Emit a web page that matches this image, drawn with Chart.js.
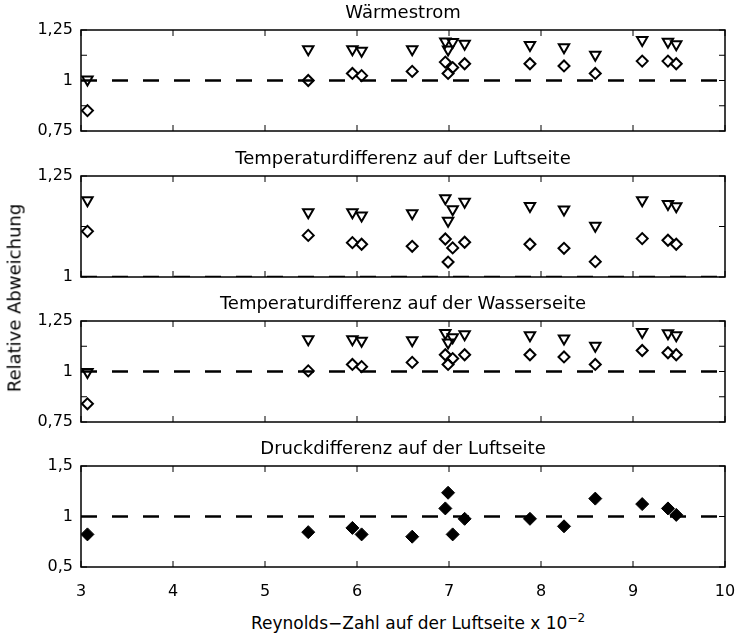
<!DOCTYPE html>
<html>
<head>
<meta charset="utf-8">
<script src="https://cdn.jsdelivr.net/npm/chart.js@4.4.1/dist/chart.umd.min.js"></script>
<style>
  body { margin: 0; background: #fff; }
  #wrap { position: relative; width: 739px; height: 635px; overflow: hidden; font-family: "DejaVu Sans", sans-serif; color: #000; }
  #wrap canvas { position: absolute; left: 0; }
  #ylabel { position: absolute; left: 14px; top: 298px; transform: translate(-50%, -50%) rotate(-90deg); white-space: nowrap; font-size: 18px; }
  #xlabel { position: absolute; left: 418px; top: 622px; transform: translate(-50%, -50%); white-space: nowrap; font-size: 17px; }
  #xlabel sup { font-size: 12px; }
</style>
</head>
<body>
<div id="wrap">
  <canvas id="heat" width="739" height="149" style="top:2px"></canvas>
  <canvas id="air" width="739" height="149" style="top:148px"></canvas>
  <canvas id="water" width="739" height="149" style="top:293px"></canvas>
  <canvas id="pressure" width="739" height="166" style="top:438px"></canvas>
  <div id="ylabel">Relative Abweichung</div>
  <div id="xlabel">Reynolds&minus;Zahl auf der Luftseite x 10<sup>&minus;2</sup></div>
</div>
<script>
// Reynolds number (x 10^-2) of each measurement, shared by all panels
const reynolds = [3.07, 5.47, 5.95, 6.05, 6.60, 6.96, 6.99, 7.04, 7.17, 7.88, 8.25, 8.59, 9.10, 9.38, 9.47];

// Wärmestrom
const heatTri = [1.005, 1.155, 1.155, 1.147, 1.155, 1.193, 1.154, 1.19, 1.182, 1.176, 1.165, 1.128, 1.20, 1.192, 1.18];
const heatDia = [0.851, 1.0, 1.035, 1.024, 1.045, 1.091, 1.035, 1.064, 1.083, 1.083, 1.072, 1.035, 1.096, 1.096, 1.083];

// Temperaturdifferenz auf der Luftseite
const airTri = [1.19, 1.16, 1.16, 1.152, 1.158, 1.195, 1.139, 1.168, 1.186, 1.176, 1.167, 1.127, 1.19, 1.181, 1.175];
const airDia = [1.113, 1.103, 1.085, 1.081, 1.076, 1.094, 1.037, 1.072, 1.086, 1.081, 1.071, 1.038, 1.095, 1.091, 1.081];

// Temperaturdifferenz auf der Wasserseite
const waterTri = [0.997, 1.16, 1.16, 1.152, 1.155, 1.19, 1.144, 1.17, 1.184, 1.18, 1.163, 1.128, 1.196, 1.189, 1.18];
const waterDia = [0.84, 1.003, 1.035, 1.024, 1.045, 1.083, 1.035, 1.064, 1.083, 1.083, 1.072, 1.035, 1.104, 1.093, 1.083];

// Druckdifferenz auf der Luftseite
const pressureDia = [0.823, 0.845, 0.887, 0.823, 0.80, 1.08, 1.235, 0.823, 0.977, 0.977, 0.903, 1.177, 1.123, 1.08, 1.016];

// axis ticks
const xTicks = [3, 4, 5, 6, 7, 8, 9, 10];
const xTickLabels = ['3', '4', '5', '6', '7', '8', '9', '10'];
const quarterTicks = [0.75, 0.875, 1, 1.125, 1.25];
const quarterLabels = ['0,75', '', '1', '', '1,25'];
const airTicks = [1, 1.125, 1.25];
const airLabels = ['1', '', '1,25'];
const pressureTicks = [0.5, 1, 1.5];
const pressureLabels = ['0,5', '1', '1,5'];

const FONT = '"DejaVu Sans", sans-serif';
const TICK_LEN = 6;

// box around the axes with inward tick marks on all four sides
function framePlugin(yTicks) {
  return {
    id: 'frame',
    afterDatasetsDraw(chart) {
      const { ctx, chartArea: a, scales: { x, y } } = chart;
      ctx.save();
      ctx.strokeStyle = '#000';
      ctx.lineWidth = 1;
      ctx.beginPath();
      xTicks.forEach(v => {
        const px = x.getPixelForValue(v);
        ctx.moveTo(px, a.bottom); ctx.lineTo(px, a.bottom - TICK_LEN);
        ctx.moveTo(px, a.top); ctx.lineTo(px, a.top + TICK_LEN);
      });
      yTicks.forEach(v => {
        const py = y.getPixelForValue(v);
        ctx.moveTo(a.left, py); ctx.lineTo(a.left + TICK_LEN, py);
        ctx.moveTo(a.right, py); ctx.lineTo(a.right - TICK_LEN, py);
      });
      ctx.stroke();
      ctx.lineWidth = 1.5;
      ctx.strokeRect(a.left, a.top, a.right - a.left, a.bottom - a.top);
      ctx.restore();
    }
  };
}

function points(values) {
  return values.map((v, i) => ({ x: reynolds[i], y: v }));
}

function openTriangles(values) {
  return {
    data: points(values), pointStyle: 'triangle', rotation: 180, pointRadius: 6,
    borderColor: '#000', backgroundColor: 'rgba(0,0,0,0)', pointBorderWidth: 2, order: 0
  };
}

function openDiamonds(values) {
  return {
    data: points(values), pointStyle: 'rectRot', pointRadius: 5.5,
    borderColor: '#000', backgroundColor: 'rgba(0,0,0,0)', pointBorderWidth: 2, order: 0
  };
}

function filledDiamonds(values) {
  return {
    data: points(values), pointStyle: 'rectRot', pointRadius: 6.5,
    borderColor: '#000', backgroundColor: '#000', pointBorderWidth: 1, order: 0
  };
}

function referenceLine() {
  return {
    type: 'line', data: [{ x: 3, y: 1 }, { x: 10, y: 1 }],
    borderColor: '#000', borderWidth: 2.5, borderDash: [16, 15], pointRadius: 0, order: 5
  };
}

function makePanel(id, title, datasets, yMin, yMax, yTicks, yLabels, showX) {
  const ctx = document.getElementById(id).getContext('2d');
  return new Chart(ctx, {
    type: 'scatter',
    data: { datasets: [referenceLine(), ...datasets] },
    options: {
      responsive: false,
      animation: false,
      events: [],
      layout: { padding: { top: 0, left: 0, right: 14, bottom: showX ? 0 : 20 } },
      plugins: {
        legend: { display: false },
        tooltip: { enabled: false },
        title: {
          display: true, fullSize: false, text: title, color: '#000',
          font: { family: FONT, size: 18, weight: 'normal', lineHeight: '22px' },
          padding: { top: 0, bottom: 6 }
        }
      },
      scales: {
        x: {
          type: 'linear', min: 3, max: 10,
          afterBuildTicks: s => { s.ticks = xTicks.map(v => ({ value: v })); },
          afterFit: s => {
            s.height = showX ? 37 : 0;
            // let the end labels hang over the plot edges instead of shrinking it
            s.paddingLeft = 0;
            s.paddingRight = 0;
          },
          grid: { display: false, drawTicks: false },
          border: { display: false },
          ticks: {
            display: showX, autoSkip: false, maxRotation: 0, padding: 15, color: '#000',
            font: { family: FONT, size: 16 },
            callback: (v, i) => xTickLabels[i]
          }
        },
        y: {
          min: yMin, max: yMax,
          afterBuildTicks: s => { s.ticks = yTicks.map(v => ({ value: v })); },
          afterFit: s => { s.width = 81; },
          grid: { display: false, drawTicks: false },
          border: { display: false },
          ticks: {
            autoSkip: false, padding: 8, color: '#000',
            font: { family: FONT, size: 16 },
            callback: (v, i) => yLabels[i]
          }
        }
      }
    },
    plugins: [framePlugin(yTicks)]
  });
}

makePanel('heat', 'Wärmestrom',
  [openTriangles(heatTri), openDiamonds(heatDia)],
  0.75, 1.25, quarterTicks, quarterLabels, false);

makePanel('air', 'Temperaturdifferenz auf der Luftseite',
  [openTriangles(airTri), openDiamonds(airDia)],
  1, 1.25, airTicks, airLabels, false);

makePanel('water', 'Temperaturdifferenz auf der Wasserseite',
  [openTriangles(waterTri), openDiamonds(waterDia)],
  0.75, 1.25, quarterTicks, quarterLabels, false);

makePanel('pressure', 'Druckdifferenz auf der Luftseite',
  [filledDiamonds(pressureDia)],
  0.5, 1.5, pressureTicks, pressureLabels, true);
</script>
</body>
</html>
